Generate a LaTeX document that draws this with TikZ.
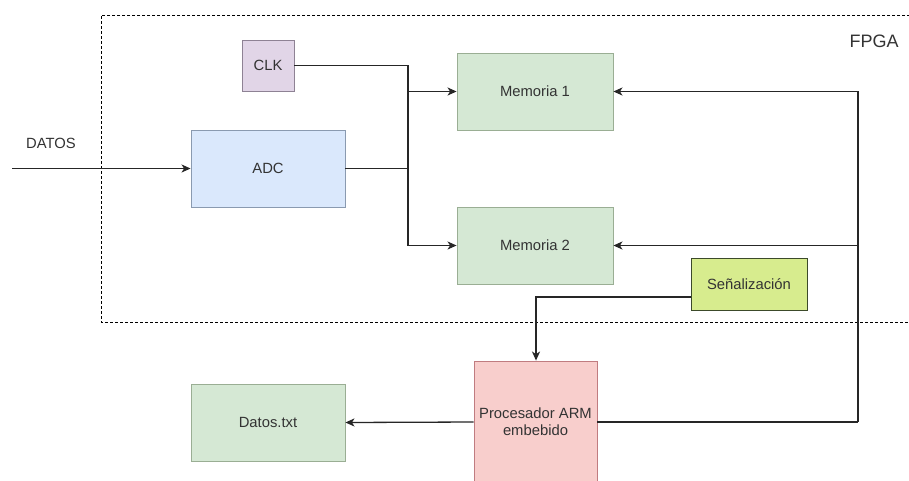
\documentclass[tikz,border=0pt]{standalone}
\usepackage{fontspec}
\setmainfont{Liberation Sans}
\usetikzlibrary{arrows.meta}
\definecolor{txt}{HTML}{333333}
\definecolor{grnfill}{HTML}{D5E8D4}
\definecolor{grnline}{HTML}{9AAE94}
\definecolor{blufill}{HTML}{DAE8FC}
\definecolor{bluline}{HTML}{8A9AB0}
\definecolor{purfill}{HTML}{E1D5E7}
\definecolor{purline}{HTML}{8E8294}
\definecolor{limfill}{HTML}{D7EC8E}
\definecolor{limline}{HTML}{3C4A2A}
\definecolor{redfill}{HTML}{F8CECC}
\definecolor{redline}{HTML}{C07C80}
\tikzset{
  x=1pt, y=-1pt,
  blk/.style={draw, line width=0.9pt, inner sep=0pt, text=txt, font=\fontsize{14.8}{17}\selectfont, align=center},
  conn/.style={draw=black!85, line width=1.3pt, -{Stealth[length=9pt,width=8pt,inset=2.5pt]}},
  plain/.style={draw=black!85, line width=1.3pt},
}
\begin{document}
\begin{tikzpicture}
\useasboundingbox (0,0) rectangle (909,480);
\fill[white] (0,0) rectangle (909,480);
% FPGA boundary
\draw[line width=0.9pt, dash pattern=on 3pt off 2pt] (920,15) -- (101,15) -- (101,322) -- (920,322);
\node[text=txt, font=\fontsize{18}{20}\selectfont] (fpga) at (874,41) {FPGA};

% blocks
\node[blk, fill=purfill, draw=purline, minimum width=52pt, minimum height=51pt] (clk) at (268,65.5) {CLK};
\node[blk, fill=blufill, draw=bluline, minimum width=154pt, minimum height=77pt] (adc) at (268,168.5) {ADC};
\node[blk, fill=grnfill, draw=grnline, minimum width=156pt, minimum height=77pt] (m1) at (535,91.5) {Memoria 1};
\node[blk, fill=grnfill, draw=grnline, minimum width=156pt, minimum height=77pt] (m2) at (535,245.5) {Memoria 2};
\node[blk, fill=limfill, draw=limline, minimum width=116pt, minimum height=52pt] (sen) at (749,284) {Señalización};
\node[blk, fill=redfill, draw=redline, minimum width=123pt, minimum height=122pt] (arm) at (535.5,422) {Procesador ARM\\embebido};
\node[blk, fill=grnfill, draw=grnline, minimum width=154pt, minimum height=77pt] (dat) at (268,422.5) {Datos.txt};

% input
\coordinate (in) at (12,168.5);
\node[text=txt, font=\fontsize{14.8}{17}\selectfont] (datos) at (51,143) {DATOS};
\draw[conn] (in) -- (adc.west);

% bus at x=408
\coordinate (bx) at (408,0);
\draw[plain] (clk.east) -- (clk.east -| bx) -- (adc.east -| bx);
\draw[plain] (adc.east) -- (adc.east -| bx);
\draw[conn] (clk.east -| bx) |- (m1.west);
\draw[conn] (adc.east -| bx) |- (m2.west);

% feedback from ARM at x=858
\coordinate (fx) at (858,0);
\draw[plain] (arm.east) -- (arm.east -| fx);
\draw[conn] (arm.east -| fx) |- (m1.east);
\draw[conn] (arm.east -| fx) |- (m2.east);

% ARM to Datos.txt
\draw[conn] (arm.west) -- (dat.east);

% Señalización to ARM
\coordinate (sy) at (0,297);
\coordinate (sx) at (536,0);
\draw[conn] (sen.west |- sy) -| (arm.north -| sx);
\end{tikzpicture}
\end{document}
